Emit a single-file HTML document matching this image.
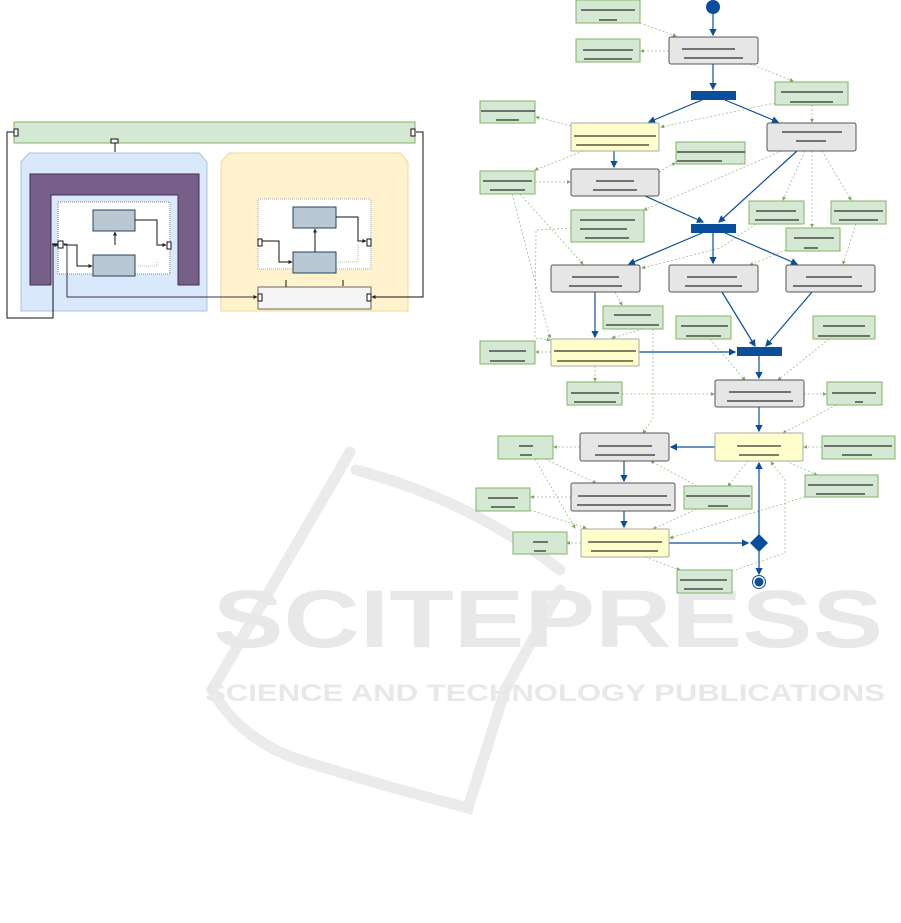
<!DOCTYPE html>
<html><head><meta charset="utf-8"><style>
html,body{margin:0;padding:0;background:#fff;}
svg{display:block;}
</style></head><body>
<svg width="901" height="923" viewBox="0 0 901 923" xmlns="http://www.w3.org/2000/svg">
<defs>
<marker id="ab" markerWidth="6" markerHeight="6" refX="5" refY="3" orient="auto"><path d="M0,0 L6,3 L0,6 Z" fill="#0a4f9c"/></marker>
<marker id="ag" markerWidth="5" markerHeight="5" refX="4" refY="2.5" orient="auto"><path d="M0,0 L5,2.5 L0,5 Z" fill="#7aa860"/></marker>
<marker id="ak" markerWidth="4" markerHeight="4" refX="3.5" refY="2" orient="auto"><path d="M0,0 L4,2 L0,4 Z" fill="#222"/></marker>
</defs>
<!-- watermark -->
<g fill="none" stroke="#ebebeb" stroke-width="11" stroke-linecap="round">
<path d="M350,452 L212,690 Q240,740 300,760 Q380,785 468,808 L505,690"/>
<path d="M356,470 Q470,500 560,570"/>
<path d="M560,590 L505,690"/>
</g>
<text x="548" y="647" font-family="Liberation Sans, sans-serif" font-weight="bold" font-size="82" fill="#e8e8e8" text-anchor="middle" textLength="670" lengthAdjust="spacingAndGlyphs">SCITEPRESS</text>
<text x="545" y="701" font-family="Liberation Sans, sans-serif" font-weight="bold" font-size="24" fill="#e8e8e8" text-anchor="middle" textLength="680" lengthAdjust="spacingAndGlyphs">SCIENCE AND TECHNOLOGY PUBLICATIONS</text>

<!-- LEFT DIAGRAM -->
<rect x="14" y="122" width="401" height="21" fill="#d5e8d4" stroke="#82b366"/>
<path d="M21,311 L21,162 L29,153 L199,153 L207,162 L207,311 Z" fill="#dae8fc" stroke="#a9c1e3"/>
<path d="M221,311 L221,162 L229,153 L400,153 L408,162 L408,311 Z" fill="#fff2cc" stroke="#ecd99a"/>
<rect x="30" y="174" width="169" height="111" fill="#76608a" stroke="#432d57"/>
<rect x="51" y="195" width="127" height="92" fill="#dae8fc" stroke="none"/>
<path d="M51,285 L51,195 L178,195 L178,285" fill="none" stroke="#432d57"/>
<rect x="58" y="202" width="112" height="72" fill="#fff" stroke="#888" stroke-dasharray="1,1"/>
<rect x="93" y="210" width="42" height="21" fill="#bac8d3" stroke="#23445d"/>
<rect x="93" y="255" width="42" height="21" fill="#bac8d3" stroke="#23445d"/>
<rect x="258" y="199" width="113" height="70" fill="#fff" stroke="#aaa" stroke-dasharray="1,1"/>
<rect x="293" y="207" width="43" height="21" fill="#bac8d3" stroke="#23445d"/>
<rect x="293" y="252" width="43" height="21" fill="#bac8d3" stroke="#23445d"/>
<rect x="258" y="287" width="113" height="22" fill="#f5f5f5" stroke="#666"/>
<g fill="none" stroke="#111" stroke-width="1">
<path d="M115,245 L115,232" marker-end="url(#ak)"/>
<path d="M135,220 L157,220 L157,245 L166,245" marker-end="url(#ak)"/>
<path d="M64,245 L77,245 L77,266 L92,266" marker-end="url(#ak)"/>
<path d="M315,252 L315,229" marker-end="url(#ak)"/>
<path d="M336,217 L358,217 L358,241 L366,241" marker-end="url(#ak)"/>
<path d="M262,241 L279,241 L279,262 L292,262" marker-end="url(#ak)"/>
<path d="M115,142 L115,152"/>
<path d="M14,132 L7,132 L7,318 L53,318 L53,245 L58,245" marker-end="url(#ak)"/>
<path d="M416,132 L423,132 L423,297 L372,297" marker-end="url(#ak)"/>
<path d="M286,287 L286,280 M343,280 L343,286" />
<path d="M52,244 L58,244"/>
</g>
<path d="M63,244 L67,244 L67,297 L257,297" fill="none" stroke="#432d57" marker-end="url(#ak)"/>
<path d="M157,262 L157,266 L137,266 M358,245 L358,262 L337,262" fill="none" stroke="#bbb" stroke-dasharray="1,1"/>
<g fill="#fff" stroke="#111">
<rect x="14" y="129" width="4" height="7"/><rect x="411" y="129" width="4" height="7"/>
<rect x="111" y="139" width="7" height="4"/>
<rect x="58" y="241" width="5" height="7"/><rect x="167" y="242" width="4" height="7"/>
<rect x="258" y="239" width="4" height="7"/><rect x="367" y="239" width="4" height="7"/>
<rect x="258" y="294" width="4" height="7"/><rect x="367" y="294" width="4" height="7"/>
</g>

<!-- RIGHT DIAGRAM: green dotted edges -->
<g fill="none" stroke="#9bbf86" stroke-width="0.8" stroke-dasharray="2,2" marker-end="url(#ag)">
<path d="M640,23 L676,36"/>
<path d="M669,51 L641,51"/>
<path d="M750,64 L793,81"/>
<path d="M775,103 L661,127"/>
<path d="M812,105 L812,122"/>
<path d="M571,126 L536,117"/>
<path d="M583,151 L535,170"/>
<path d="M535,182 L570,182"/>
<path d="M659,172 L675,163"/>
<path d="M782,151 L644,210"/>
<path d="M805,151 L783,200"/>
<path d="M812,151 L812,227"/>
<path d="M822,151 L851,200"/>
<path d="M571,228 L536,230 L535,338 L550,340"/>
<path d="M520,194 L583,264"/>
<path d="M512,194 L550,338"/>
<path d="M756,224 L720,248 L642,268"/>
<path d="M786,250 L750,265"/>
<path d="M856,224 L843,264"/>
<path d="M615,292 L622,305"/>
<path d="M643,329 L612,338"/>
<path d="M653,329 L653,418 L643,433"/>
<path d="M551,352 L536,352"/>
<path d="M595,366 L595,381"/>
<path d="M622,394 L714,394"/>
<path d="M710,339 L745,380"/>
<path d="M829,339 L778,380"/>
<path d="M804,394 L826,394"/>
<path d="M836,405 L783,433"/>
<path d="M822,447 L804,447"/>
<path d="M580,447 L554,447"/>
<path d="M545,459 L596,483"/>
<path d="M535,459 L575,528"/>
<path d="M571,497 L531,497"/>
<path d="M530,510 L586,528"/>
<path d="M697,486 L651,461"/>
<path d="M748,461 L728,486"/>
<path d="M786,461 L817,475"/>
<path d="M805,497 L670,538"/>
<path d="M697,509 L653,529"/>
<path d="M581,543 L567,543"/>
<path d="M645,557 L680,570"/>
<path d="M732,571 L785,553 L785,480 L771,462"/>
</g>
<!-- blue edges -->
<g fill="none" stroke="#0a4f9c" stroke-width="1.2" marker-end="url(#ab)">
<path d="M713,14 L713,35"/>
<path d="M713,64 L713,89"/>
<path d="M702,100 L649,122"/>
<path d="M725,100 L778,122"/>
<path d="M614,151 L614,167"/>
<path d="M645,196 L703,222"/>
<path d="M797,151 L719,222"/>
<path d="M702,233 L629,264"/>
<path d="M713,233 L713,263"/>
<path d="M725,233 L797,264"/>
<path d="M595,292 L595,337"/>
<path d="M722,292 L755,346"/>
<path d="M812,292 L766,346"/>
<path d="M639,352 L735,352"/>
<path d="M759,356 L759,378"/>
<path d="M759,407 L759,431"/>
<path d="M715,447 L671,447"/>
<path d="M624,461 L624,481"/>
<path d="M624,511 L624,527"/>
<path d="M669,543 L748,543"/>
<path d="M759,535 L759,463"/>
<path d="M759,551 L759,574"/>
</g>
<!-- nodes -->
<g stroke="#82b366" fill="#d5e8d4">
<rect x="576" y="0" width="64" height="23"/><rect x="576" y="39" width="64" height="23"/>
<rect x="775" y="82" width="73" height="23"/><rect x="480" y="101" width="55" height="22"/>
<rect x="676" y="142" width="69" height="22"/><rect x="480" y="171" width="55" height="23"/>
<rect x="571" y="210" width="73" height="32"/>
<rect x="749" y="201" width="55" height="23"/><rect x="831" y="201" width="55" height="23"/><rect x="786" y="228" width="54" height="23"/>
<rect x="603" y="306" width="60" height="23"/><rect x="480" y="341" width="55" height="23"/>
<rect x="676" y="316" width="55" height="23"/><rect x="813" y="316" width="62" height="23"/>
<rect x="567" y="382" width="55" height="23"/><rect x="827" y="382" width="55" height="23"/>
<rect x="498" y="436" width="55" height="23"/><rect x="822" y="436" width="73" height="23"/>
<rect x="684" y="486" width="68" height="23"/><rect x="805" y="475" width="73" height="22"/>
<rect x="476" y="488" width="54" height="23"/><rect x="513" y="532" width="54" height="22"/>
<rect x="677" y="570" width="55" height="23"/>
</g>
<g stroke="#555" fill="#e6e6e6">
<rect x="669" y="37" width="89" height="27" rx="2"/><rect x="767" y="123" width="89" height="28" rx="2"/>
<rect x="571" y="169" width="88" height="27" rx="2"/>
<rect x="551" y="265" width="89" height="27" rx="2"/><rect x="669" y="265" width="89" height="27" rx="2"/><rect x="786" y="265" width="89" height="27" rx="2"/>
<rect x="715" y="380" width="89" height="27" rx="2"/><rect x="580" y="433" width="89" height="28" rx="2"/>
<rect x="571" y="483" width="104" height="28" rx="2"/>
</g>
<g stroke="#aaa" fill="#ffffcc">
<rect x="571" y="123" width="88" height="28" rx="1"/><rect x="551" y="339" width="88" height="27" rx="1"/>
<rect x="715" y="433" width="88" height="28" rx="1"/><rect x="581" y="529" width="88" height="28" rx="1"/>
</g>
<g fill="#0a4f9c">
<circle cx="713" cy="7" r="7"/>
<rect x="691" y="91" width="45" height="9"/><rect x="691" y="224" width="45" height="9"/><rect x="737" y="347" width="45" height="9"/>
<path d="M759,534 L768,543 L759,552 L750,543 Z"/>
<circle cx="759" cy="582" r="4.5"/>
</g>
<circle cx="759" cy="582" r="6.5" fill="none" stroke="#0a4f9c" stroke-width="1"/>
<!-- redacted text lines -->
<g stroke="#000" stroke-width="0.9">
<path d="M581,10H635 M599,20H617"/><path d="M583,50H633 M584,59H632"/>
<path d="M682,49H735 M684,58H743"/><path d="M781,92H843 M790,102H833"/>
<path d="M481,111H535 M496,120H519"/><path d="M574,136H656 M576,145H649"/>
<path d="M782,132H842 M796,141H826"/><path d="M677,152H745 M677,161H722"/>
<path d="M483,181H532 M490,190H525"/><path d="M596,181H634 M593,190H637"/>
<path d="M580,220H635 M580,229H627 M585,238H629"/>
<path d="M756,211H796 M755,220H799"/><path d="M834,211H883 M839,220H878"/><path d="M794,238H834 M804,248H818"/>
<path d="M572,277H619 M569,286H622"/><path d="M687,277H737 M685,286H742"/><path d="M806,277H852 M793,286H862"/>
<path d="M614,315H651 M606,325H659"/><path d="M554,351H636 M557,361H633"/>
<path d="M489,351H526 M490,361H525"/><path d="M681,326H728 M686,336H721"/><path d="M823,326H865 M818,336H870"/>
<path d="M571,393H619 M574,402H616"/><path d="M729,392H791 M727,401H793"/><path d="M832,393H876 M855,402H863"/>
<path d="M598,446H652 M595,455H655"/><path d="M737,446H781 M739,455H779"/>
<path d="M519,446H533 M520,455H532"/><path d="M824,446H892 M842,455H872"/>
<path d="M578,496H667 M577,505H671"/><path d="M686,496H750 M708,506H728"/><path d="M808,485H873 M816,494H865"/>
<path d="M488,498H518 M491,507H515"/><path d="M588,542H662 M591,551H658"/><path d="M533,542H548 M534,551H546"/>
<path d="M680,580H727 M684,589H723"/>
</g>
</svg>
</body></html>
